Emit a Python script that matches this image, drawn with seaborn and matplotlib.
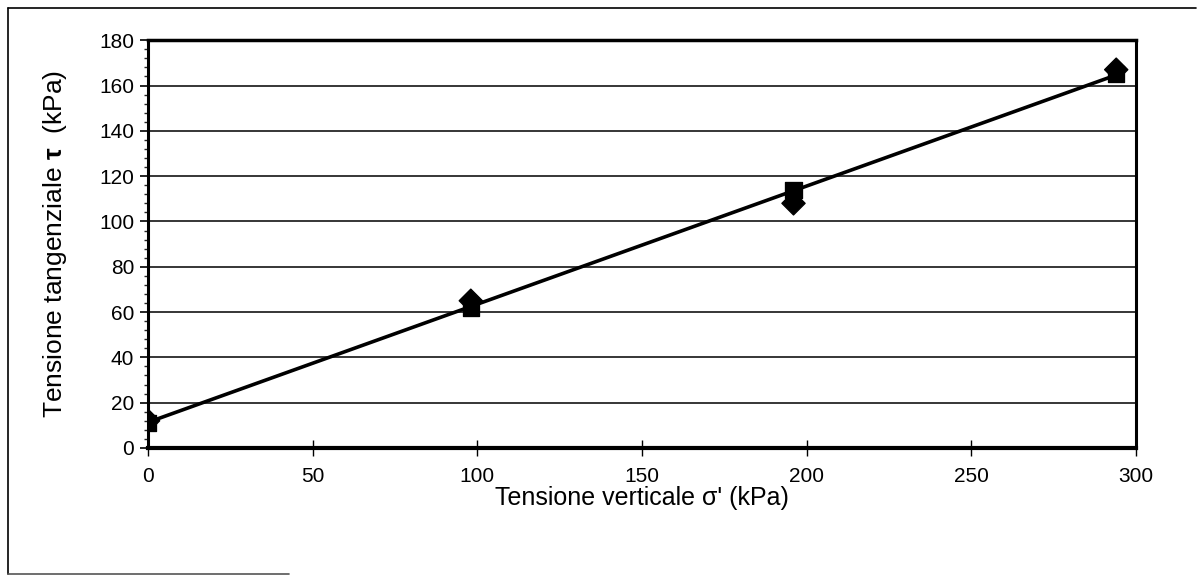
import numpy as np
import pandas as pd
import matplotlib
matplotlib.use("Agg")
import matplotlib.pyplot as plt
import seaborn as sns
from matplotlib.lines import Line2D
from matplotlib.ticker import MultipleLocator

# data
sigma = [0, 98, 196, 294]
tau_series1 = [12, 65, 108, 167]   # diamonds
tau_series2 = [11, 62, 114, 165]   # squares

sns.set_theme(style="white")
plt.rcParams['font.family'] = ['Liberation Sans', 'DejaVu Sans']
plt.rcParams['mathtext.fontset'] = 'custom'
plt.rcParams['mathtext.bf'] = 'Liberation Sans:bold'
plt.rcParams['mathtext.rm'] = 'Liberation Sans'

fig = plt.figure(figsize=(12.04, 5.83), dpi=100)
ax = fig.add_axes([0.123, 0.2316, 0.8205, 0.6994])

df = pd.DataFrame({
    "sigma": sigma * 2,
    "tau": tau_series1 + tau_series2,
    "serie": ["A"] * 4 + ["B"] * 4,
})

# trend line from all data
slope, intercept = np.polyfit(df["sigma"], df["tau"], 1)
xs = np.array([min(sigma), max(sigma)])
ax.plot(xs, slope * xs + intercept, color="black", lw=2.6, zorder=2)

sns.scatterplot(data=df, x="sigma", y="tau", style="serie",
                markers={"A": "D", "B": "s"}, color="black", s=140,
                edgecolor="black", legend=False, ax=ax, zorder=3)

ax.set_xlim(0, 300)
ax.set_ylim(0, 180)
ax.xaxis.set_major_locator(MultipleLocator(50))
ax.yaxis.set_major_locator(MultipleLocator(20))
ax.yaxis.set_minor_locator(MultipleLocator(4))
ax.grid(axis="y", color="black", lw=1.1)
ax.set_axisbelow(True)

ax.tick_params(axis="y", which="major", direction="out", length=6, width=1.2,
               labelsize=15, pad=4, colors="black", left=True)
ax.tick_params(axis="y", which="minor", direction="out", length=3, width=1,
               left=True)
ax.tick_params(axis="x", which="major", direction="inout", length=12, width=1,
               labelsize=15, pad=8, colors="black", bottom=True)

for side, lw in {"top": 2.5, "bottom": 3, "left": 2.2, "right": 2.2}.items():
    ax.spines[side].set_visible(True)
    ax.spines[side].set_color("black")
    ax.spines[side].set_linewidth(lw)

ax.set_xlabel("Tensione verticale σ' (kPa)", fontsize=18, labelpad=0, color="black")
ax.set_ylabel(r"Tensione tangenziale $\mathbf{\tau}$  (kPa)", fontsize=19,
              labelpad=22, color="black")

# outer frame (left, top, partial bottom)
fig.add_artist(Line2D([0.007, 0.007], [0.015, 0.986], transform=fig.transFigure,
                      color="black", lw=1.2))
fig.add_artist(Line2D([0.007, 0.993], [0.986, 0.986], transform=fig.transFigure,
                      color="black", lw=1.2))
fig.add_artist(Line2D([0.007, 0.24], [0.015, 0.015], transform=fig.transFigure,
                      color="#555555", lw=1.2))

fig.savefig("out.png", dpi=100, facecolor="white")
